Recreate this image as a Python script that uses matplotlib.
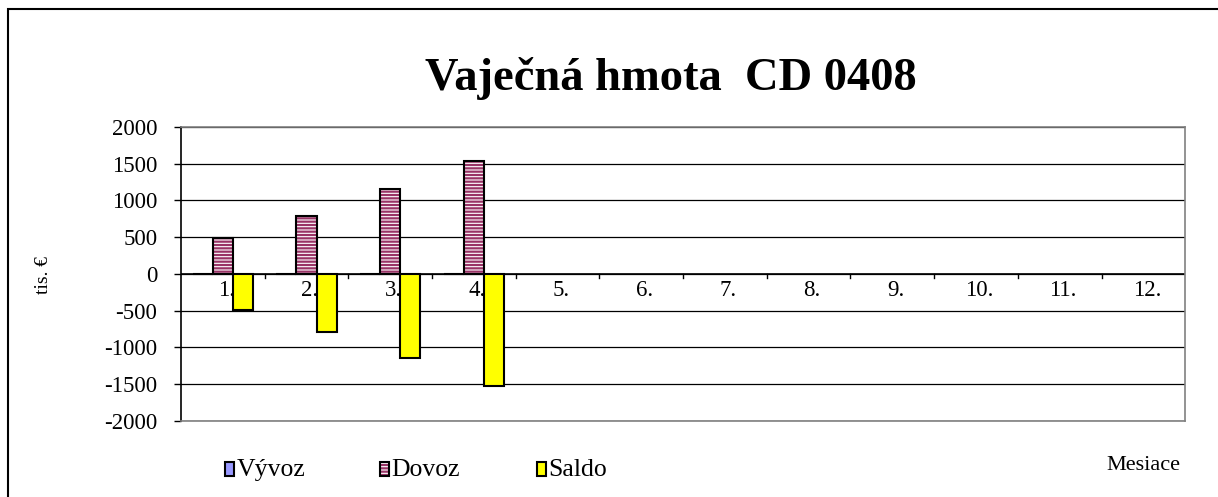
import matplotlib
matplotlib.use("Agg")
import matplotlib.pyplot as plt
from matplotlib.patches import Rectangle
import numpy as np

plt.rcParams['font.family'] = ['Liberation Serif', 'DejaVu Serif']
plt.rcParams['hatch.linewidth'] = 1.6
plt.rcParams['axes.unicode_minus'] = False

# data (tis. EUR), months 1-12, only first four filled
months = ["1.", "2.", "3.", "4.", "5.", "6.", "7.", "8.", "9.", "10.", "11.", "12."]
vyvoz = [0, 0, 0, 0, 0, 0, 0, 0, 0, 0, 0, 0]
dovoz = [492, 795, 1155, 1535, 0, 0, 0, 0, 0, 0, 0, 0]
saldo = [-492, -795, -1150, -1527, 0, 0, 0, 0, 0, 0, 0, 0]

c_vyvoz = "#9999ff"
c_dovoz = "#993366"
c_saldo = "#ffff00"

fig = plt.figure(figsize=(12.18, 4.97), dpi=100)
ax = fig.add_axes([0.1486, 0.153, 0.8245, 0.5915])

x = np.arange(len(months))
w = 0.24
n = 4  # only filled months get bars
ax.bar(x[:n] - w, vyvoz[:n], w, color=c_vyvoz, edgecolor="black", linewidth=1.5, zorder=3)
# dovoz: striped fill, then black outline on top
ax.bar(x[:n], dovoz[:n], w, color="white", edgecolor=c_dovoz, hatch="-----", linewidth=0, zorder=3)
ax.bar(x[:n], dovoz[:n], w, fill=False, edgecolor="black", linewidth=1.5, zorder=4)
ax.bar(x[:n] + w, saldo[:n], w, color=c_saldo, edgecolor="black", linewidth=1.5, zorder=3)

ax.set_xlim(-0.5, len(months) - 0.5)
ax.set_ylim(-2000, 2000)
ax.set_yticks(np.arange(-2000, 2001, 500))
ax.tick_params(axis="y", labelsize=16.5, length=5, width=1, direction="out", pad=12)
ax.yaxis.grid(True, color="black", linewidth=0.9, zorder=0)
ax.set_axisbelow(True)

# category axis sits at zero
ax.set_xticks([])
ax.axhline(0, color="black", linewidth=1.2, zorder=2)
for b in np.arange(0.5, len(months) - 0.5, 1):
    ax.plot([b, b], [0, -60], color="black", linewidth=1, zorder=2)
for xi, lab in zip(x, months):
    ax.text(xi + 0.04, -80, lab, ha="center", va="top", fontsize=16.5, zorder=1)

for s in ax.spines.values():
    s.set_color("#808080")
    s.set_linewidth(1.2)
ax.spines["left"].set_color("black")

fig.text(0.036, 0.447, "tis. €", rotation=90, ha="center", va="center", fontsize=14)

fig.text(0.551, 0.842, "Vaječná hmota  CD 0408", ha="center", va="center",
         fontsize=33.5, fontweight="bold")

# legend entries
for lx, lab, fc, hatch in [(0.185, "Vývoz", c_vyvoz, None),
                           (0.312, "Dovoz", "white", "-----"),
                           (0.4405, "Saldo", c_saldo, None)]:
    if hatch:
        fig.patches.append(Rectangle((lx, 0.043), 0.0075, 0.027, transform=fig.transFigure,
                                     facecolor="white", edgecolor=c_dovoz, hatch=hatch, linewidth=0))
        fig.patches.append(Rectangle((lx, 0.043), 0.0075, 0.027, transform=fig.transFigure,
                                     fill=False, edgecolor="black", linewidth=1.5))
    else:
        fig.patches.append(Rectangle((lx, 0.043), 0.0075, 0.027, transform=fig.transFigure,
                                     facecolor=fc, edgecolor="black", linewidth=1.5))
    fig.text(lx + 0.0095, 0.055, lab, ha="left", va="center", fontsize=18.5)

fig.text(0.939, 0.063, "Mesiace", ha="center", va="center", fontsize=16)

# outer chart frame
fig.patches.append(Rectangle((0.0066, -0.05), 1.2, 1.032, transform=fig.transFigure,
                             fill=False, edgecolor="black", linewidth=1.5))

fig.savefig("out.png", dpi=100)
